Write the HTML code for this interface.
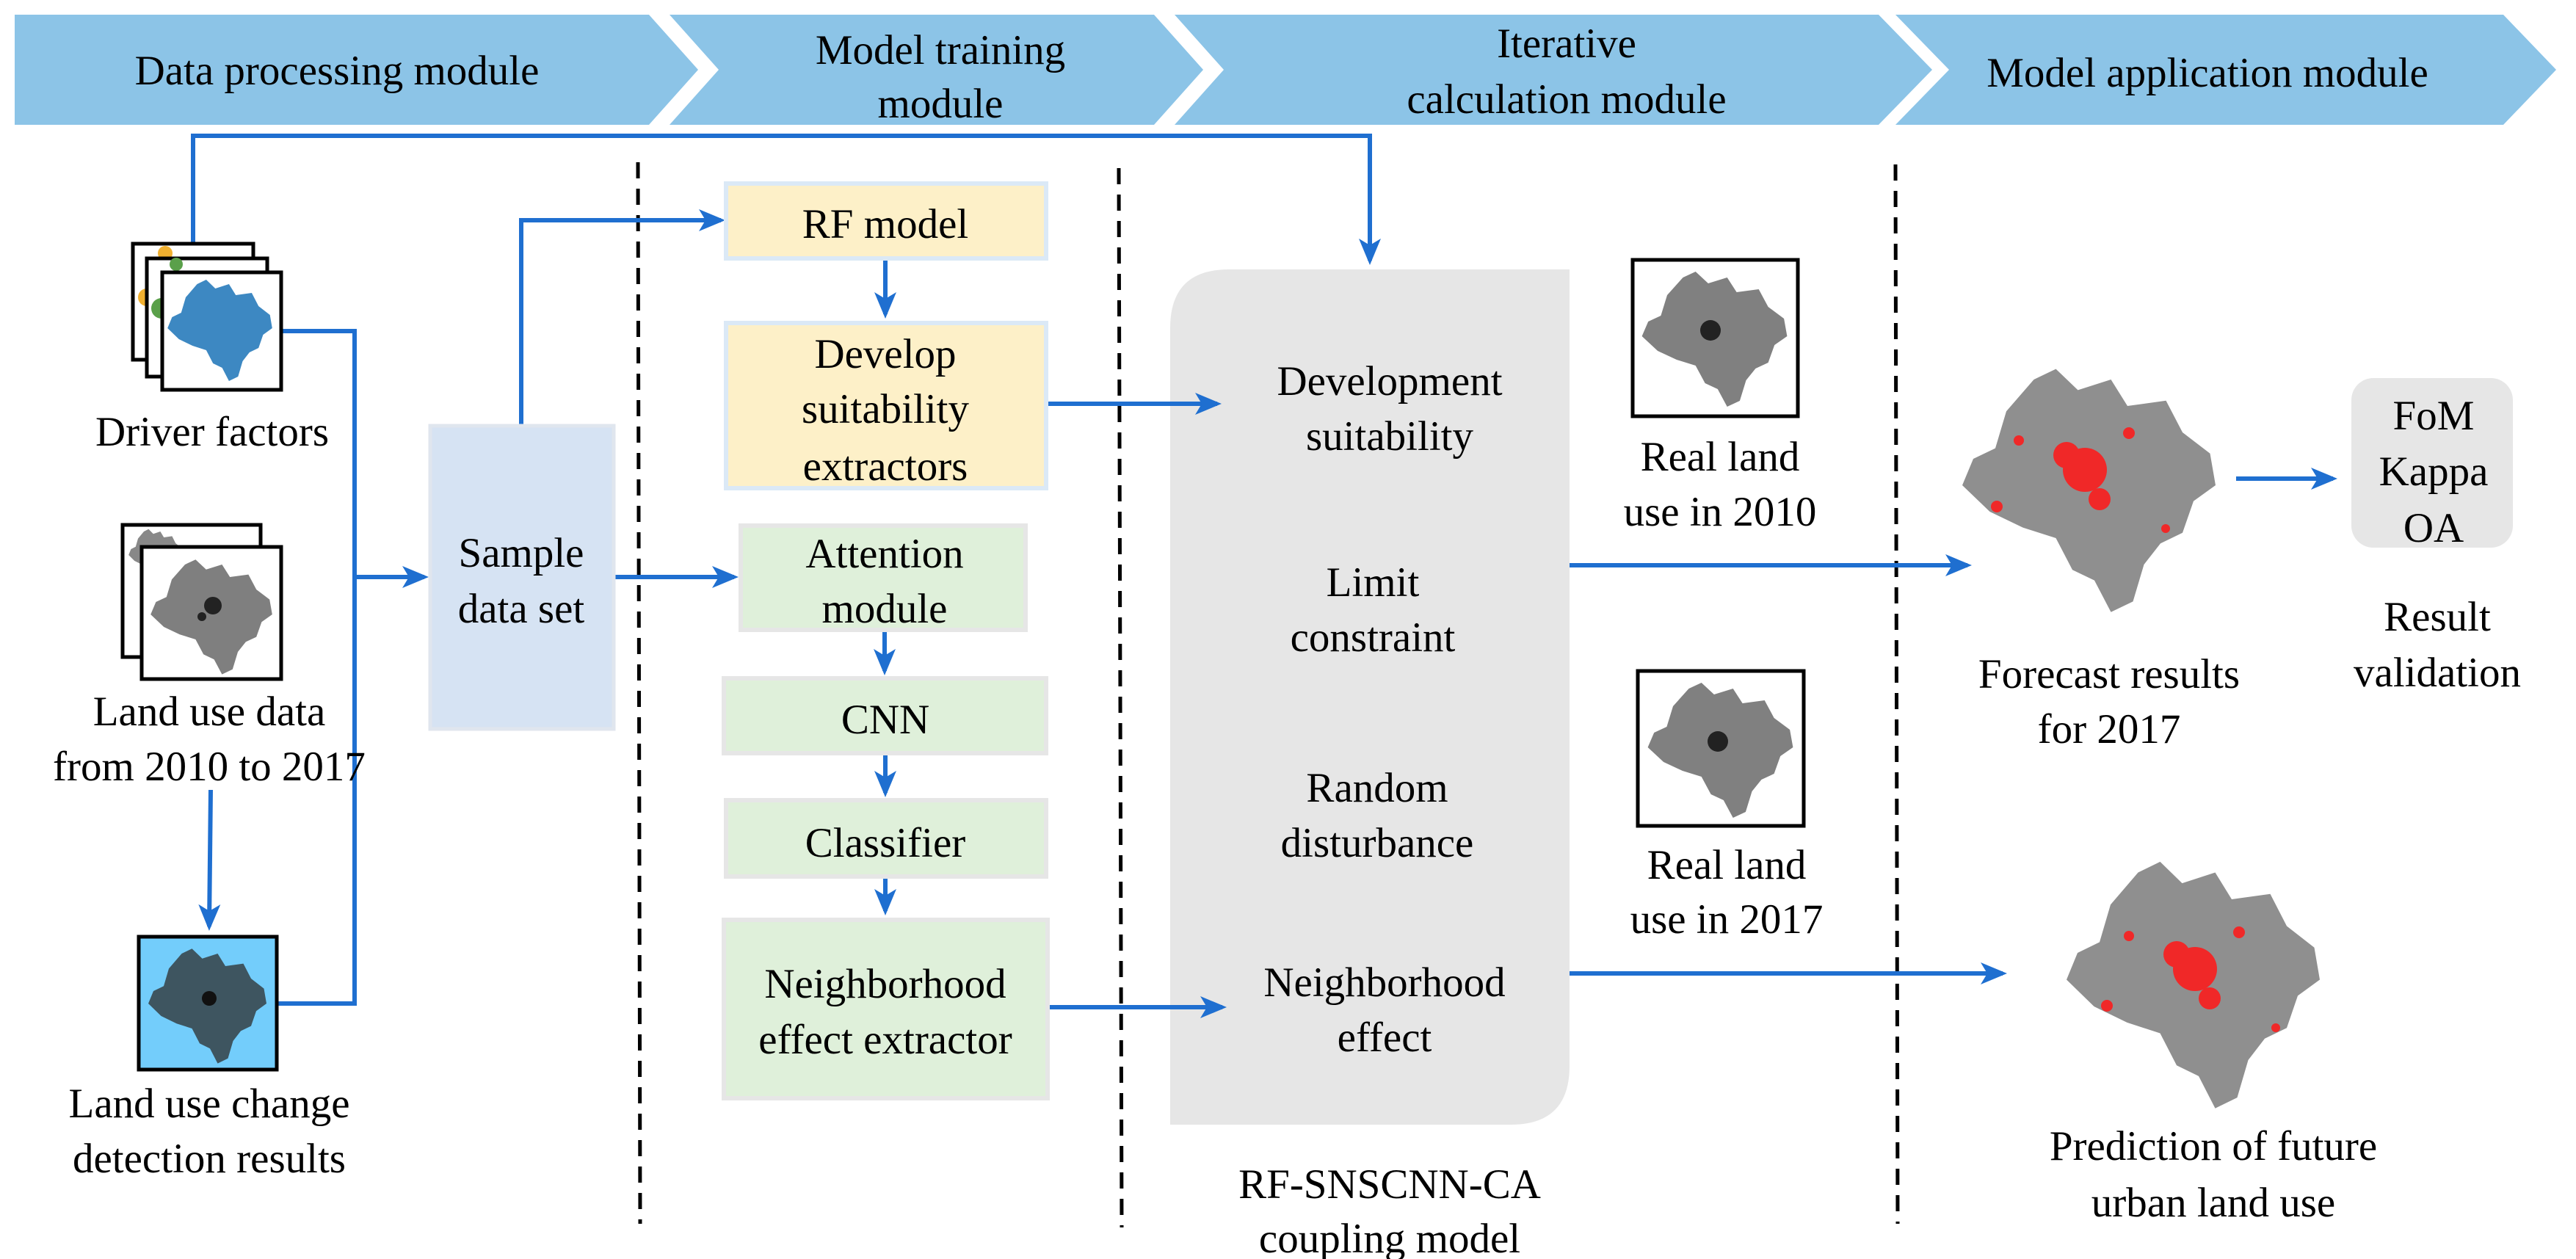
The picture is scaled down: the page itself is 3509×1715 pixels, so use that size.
<!DOCTYPE html>
<html><head><meta charset="utf-8"><style>
html,body{margin:0;padding:0;background:#fff;font-family:"Liberation Serif","Times New Roman",Times,serif;}
svg{display:block;}
svg text{font-family:"Liberation Serif","Times New Roman",Times,serif;font-size:57px;fill:#000;text-anchor:middle;}
</style></head><body>
<svg width="3509" height="1715" viewBox="0 0 3509 1715" xmlns="http://www.w3.org/2000/svg">
<defs>
<path id="blob" d="M20,22 L30,10 L38,6 L46,14 L58,10 L64,20 L78,18 L84,30 L94,38 L96,50 L88,56 L84,68 L76,72 L70,80 L66,94 L58,98 L52,86 L44,82 L38,70 L26,66 L14,60 L4,50 L8,40 L16,36 Z"/>
<marker id="ah" markerWidth="6" markerHeight="6" refX="5" refY="3" orient="auto" markerUnits="strokeWidth"><path d="M0,0.5 L6,3 L0,5.5 L1.5,3 Z" fill="#1f6fd0"/></marker>
</defs>

<g fill="#8cc4e7">
<polygon points="20,20 884,20 951,95 884,170 20,170"/>
<polygon points="912,20 1572,20 1639,95 1572,170 912,170 979,95"/>
<polygon points="1600,20 2559,20 2632,95 2559,170 1600,170 1667,95"/>
<polygon points="2582,20 3410,20 3482,95 3410,170 2582,170 2655,95"/>
</g>
<text x="459" y="115">Data processing module</text>
<text x="1281" y="87">Model training</text>
<text x="1281" y="160">module</text>
<text x="2134" y="78">Iterative</text>
<text x="2134" y="154">calculation module</text>
<text x="3007" y="118">Model application module</text>

<g stroke="#000" stroke-width="5" stroke-dasharray="22,14">
<line x1="869" y1="221" x2="872" y2="1667"/>
<line x1="1524" y1="229" x2="1528" y2="1672"/>
<line x1="2582" y1="224" x2="2585" y2="1667"/>
</g>

<path d="M1674,367 L2138,367 L2138,1452 Q2138,1532 2058,1532 L1594,1532 L1594,447 Q1594,367 1674,367 Z" fill="#e6e6e6"/>

<g stroke="#1f6fd0" stroke-width="6" fill="none">
<polyline points="263,330 263,185 1866,185 1866,355" marker-end="url(#ah)"/>
<polyline points="384,451 483,451 483,1367 378,1367"/>
<line x1="483" y1="786" x2="578" y2="786" marker-end="url(#ah)"/>
<line x1="287" y1="1076" x2="285" y2="1262" marker-end="url(#ah)"/>
<polyline points="710,578 710,300 982,300" marker-end="url(#ah)"/>
<line x1="837" y1="786" x2="1000" y2="786" marker-end="url(#ah)"/>
<line x1="1206" y1="353" x2="1206" y2="428" marker-end="url(#ah)"/>
<line x1="1426" y1="550" x2="1658" y2="550" marker-end="url(#ah)"/>
<line x1="1205" y1="859" x2="1205" y2="914" marker-end="url(#ah)"/>
<line x1="1206" y1="1027" x2="1206" y2="1080" marker-end="url(#ah)"/>
<line x1="1206" y1="1195" x2="1206" y2="1241" marker-end="url(#ah)"/>
<line x1="1428" y1="1372" x2="1665" y2="1372" marker-end="url(#ah)"/>
<line x1="2138" y1="770" x2="2680" y2="770" marker-end="url(#ah)"/>
<line x1="2138" y1="1326" x2="2728" y2="1326" marker-end="url(#ah)"/>
<line x1="3046" y1="652" x2="3178" y2="652" marker-end="url(#ah)"/>
</g>

<rect x="181" y="332" width="164" height="158" fill="#fff" stroke="#000" stroke-width="5"/>
<circle cx="225" cy="345" r="10" fill="#f0b030"/><circle cx="200" cy="405" r="12" fill="#f0b030"/>
<rect x="200" y="352" width="164" height="161" fill="#fff" stroke="#000" stroke-width="5"/>
<circle cx="240" cy="360" r="9" fill="#5aa04a"/><circle cx="220" cy="420" r="14" fill="#5aa04a"/>
<rect x="221" y="371" width="162" height="160" fill="#fff" stroke="#000" stroke-width="5"/>
<use href="#blob" transform="translate(222,372) scale(1.55,1.5)" fill="#3d88c2"/>
<text x="289" y="607">Driver factors</text>

<rect x="167" y="715" width="188" height="180" fill="#fff" stroke="#000" stroke-width="5"/>
<use href="#blob" transform="translate(172,716) scale(0.8,0.8)" fill="#888"/>
<rect x="193" y="745" width="190" height="180" fill="#fff" stroke="#000" stroke-width="5"/>
<use href="#blob" transform="translate(198,752) scale(1.8,1.7)" fill="#7f7f7f"/>
<circle cx="290" cy="825" r="12" fill="#222"/><circle cx="275" cy="840" r="6" fill="#222"/>
<text x="285" y="988">Land use data</text>
<text x="285" y="1063">from 2010 to 2017</text>

<rect x="189" y="1276" width="188" height="181" fill="#73cdfb" stroke="#000" stroke-width="5"/>
<use href="#blob" transform="translate(195,1282) scale(1.75,1.7)" fill="#3e5560"/>
<circle cx="285" cy="1360" r="10" fill="#111"/>
<text x="285" y="1522">Land use change</text>
<text x="285" y="1597">detection results</text>

<rect x="586" y="580" width="250" height="413" fill="#d6e3f3" stroke="#e0e6ee" stroke-width="5"/>
<text x="710" y="772">Sample</text>
<text x="710" y="848">data set</text>

<rect x="989" y="250" width="436" height="102" fill="#fdf0c8" stroke="#dbe9f6" stroke-width="6"/>
<text x="1206" y="324">RF model</text>
<rect x="989" y="440" width="436" height="225" fill="#fdf0c8" stroke="#dbe9f6" stroke-width="6"/>
<text x="1206" y="501">Develop</text>
<text x="1206" y="576">suitability</text>
<text x="1206" y="654">extractors</text>
<rect x="1009" y="716" width="388" height="142" fill="#dff0da" stroke="#e6e6e6" stroke-width="6"/>
<text x="1205" y="773">Attention</text>
<text x="1205" y="848">module</text>
<rect x="986" y="924" width="439" height="102" fill="#dff0da" stroke="#e6e6e6" stroke-width="6"/>
<text x="1206" y="999">CNN</text>
<rect x="989" y="1090" width="436" height="104" fill="#dff0da" stroke="#e6e6e6" stroke-width="6"/>
<text x="1206" y="1167">Classifier</text>
<rect x="986" y="1253" width="441" height="243" fill="#dff0da" stroke="#e6e6e6" stroke-width="6"/>
<text x="1206" y="1359">Neighborhood</text>
<text x="1206" y="1435">effect extractor</text>

<text x="1893" y="538">Development</text>
<text x="1893" y="613">suitability</text>
<text x="1870" y="812">Limit</text>
<text x="1870" y="887">constraint</text>
<text x="1876" y="1092">Random</text>
<text x="1876" y="1167">disturbance</text>
<text x="1886" y="1357">Neighborhood</text>
<text x="1886" y="1432">effect</text>
<text x="1893" y="1632">RF-SNSCNN-CA</text>
<text x="1893" y="1706">coupling model</text>

<rect x="2224" y="354" width="225" height="213" fill="#fff" stroke="#000" stroke-width="5"/>
<use href="#blob" transform="translate(2228,358) scale(2.15,2.0)" fill="#808080"/>
<circle cx="2330" cy="450" r="14" fill="#222"/>
<text x="2343" y="641">Real land</text>
<text x="2343" y="716">use in 2010</text>
<rect x="2231" y="914" width="226" height="211" fill="#fff" stroke="#000" stroke-width="5"/>
<use href="#blob" transform="translate(2236,918) scale(2.15,2.0)" fill="#808080"/>
<circle cx="2340" cy="1010" r="14" fill="#222"/>
<text x="2352" y="1197">Real land</text>
<text x="2352" y="1271">use in 2017</text>

<use href="#blob" transform="translate(2658,481) scale(3.75,3.6)" fill="#8f8f8f"/>
<g fill="#f02828"><circle cx="2840" cy="640" r="30"/><circle cx="2815" cy="620" r="18"/><circle cx="2860" cy="680" r="15"/><circle cx="2720" cy="690" r="8"/><circle cx="2900" cy="590" r="8"/><circle cx="2750" cy="600" r="7"/><circle cx="2950" cy="720" r="6"/></g>
<text x="2873" y="937">Forecast results</text>
<text x="2873" y="1012">for 2017</text>

<rect x="3203" y="515" width="220" height="231" rx="30" fill="#e6e6e6"/>
<text x="3315" y="585">FoM</text>
<text x="3315" y="661">Kappa</text>
<text x="3315" y="738">OA</text>
<text x="3320" y="859">Result</text>
<text x="3320" y="935">validation</text>

<use href="#blob" transform="translate(2800,1152) scale(3.75,3.65)" fill="#8f8f8f"/>
<g fill="#f02828"><circle cx="2990" cy="1320" r="30"/><circle cx="2965" cy="1300" r="18"/><circle cx="3010" cy="1360" r="15"/><circle cx="2870" cy="1370" r="8"/><circle cx="3050" cy="1270" r="8"/><circle cx="2900" cy="1275" r="7"/><circle cx="3100" cy="1400" r="6"/></g>
<text x="3015" y="1580">Prediction of future</text>
<text x="3015" y="1657">urban land use</text>
</svg>
</body></html>
